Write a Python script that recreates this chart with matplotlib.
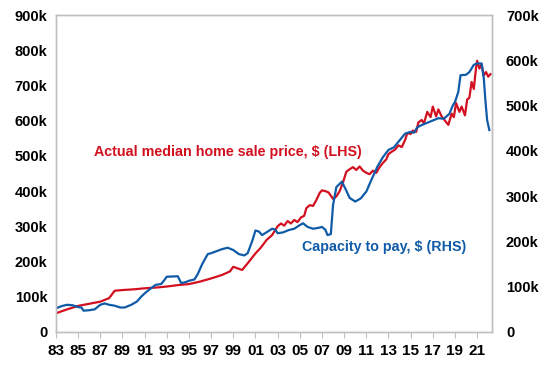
import numpy as np
import matplotlib
matplotlib.use("Agg")
import matplotlib.pyplot as plt
from matplotlib.ticker import FuncFormatter

# ---- data (values in $k) ----
price_years = [1983.0, 1984.0, 1985.0, 1986.0, 1987.0, 1987.8, 1988.3, 1989.0, 1990.0, 1991.0,
               1992.0, 1993.0, 1994.0, 1995.0, 1996.0, 1997.0, 1998.0, 1998.7, 1999.0, 1999.8,
               2000.3, 2001.0, 2001.5, 2002.0, 2002.5, 2003.0, 2003.3, 2003.6, 2003.9, 2004.2,
               2004.5, 2004.8, 2005.1, 2005.4, 2005.6, 2005.9, 2006.2, 2006.5, 2006.8, 2007.0,
               2007.3, 2007.6, 2008.0, 2008.3, 2008.6, 2008.9, 2009.2, 2009.5, 2009.8, 2010.1,
               2010.4, 2010.7, 2011.0, 2011.3, 2011.6, 2011.9, 2012.2, 2012.5, 2012.8, 2013.0,
               2013.3, 2013.6, 2013.9, 2014.2, 2014.5, 2014.7, 2015.0, 2015.2, 2015.5, 2015.7,
               2016.0, 2016.2, 2016.5, 2016.8, 2017.0, 2017.3, 2017.5, 2017.8, 2018.1, 2018.4,
               2018.7, 2018.9, 2019.1, 2019.4, 2019.6, 2019.9, 2020.1, 2020.3, 2020.5, 2020.7,
               2020.9, 2021.0, 2021.2, 2021.4, 2021.6, 2021.8, 2022.0, 2022.2]
price_vals = [53, 64, 74, 80, 86, 96, 117, 119, 121, 124,
              126, 129, 133, 136, 143, 152, 162, 172, 185, 176,
              195, 223, 240, 261, 275, 300, 308, 302, 315, 308,
              318, 312, 325, 330, 352, 360, 358, 375, 395, 402,
              400, 396, 378, 385, 400, 425, 455, 462, 468, 460,
              470, 458, 452, 448, 458, 452, 468, 480, 490, 505,
              512, 518, 530, 525, 545, 565, 562, 572, 568, 595,
              602, 592, 625, 610, 640, 612, 632, 612, 600, 588,
              620, 610, 650, 625, 640, 615, 660, 665, 710, 690,
              750, 770, 748, 760, 728, 738, 725, 732]

cap_years = [1983.0, 1983.5, 1984.0, 1984.5, 1985.0, 1985.3, 1985.5, 1986.0, 1986.5, 1987.0,
             1987.4, 1987.8, 1988.3, 1988.8, 1989.2, 1989.8, 1990.3, 1990.7, 1991.0, 1991.5,
             1992.0, 1992.5, 1992.8, 1993.0, 1994.0, 1994.3, 1994.7, 1995.0, 1995.5, 1995.8,
             1996.2, 1996.7, 1997.0, 1998.0, 1998.5, 1999.0, 1999.5, 2000.0, 2000.3, 2000.7,
             2001.0, 2001.3, 2001.6, 2002.0, 2002.5, 2002.8, 2003.0, 2003.5, 2004.0, 2004.5,
             2005.0, 2005.3, 2005.7, 2006.2, 2006.7, 2007.0, 2007.3, 2007.5, 2007.8, 2008.0,
             2008.3, 2008.8, 2009.2, 2009.5, 2010.0, 2010.5, 2011.0, 2011.5, 2012.0, 2012.5,
             2013.0, 2013.5, 2014.0, 2014.5, 2015.0, 2015.3, 2015.6, 2016.0, 2016.5, 2017.0,
             2017.5, 2018.0, 2018.5, 2018.8, 2019.0, 2019.3, 2019.5, 2020.0, 2020.3, 2020.7,
             2021.0, 2021.4, 2021.6, 2021.75, 2021.9, 2022.1]
cap_vals = [52, 57, 60, 59, 55, 54, 47, 48, 50, 60,
            63, 60, 58, 54, 54, 60, 67, 78, 85, 95,
            104, 106, 115, 122, 123, 108, 110, 113, 116, 128,
            150, 172, 174, 183, 186, 181, 172, 169, 174, 200,
            224, 222, 214, 220, 228, 226, 218, 220, 225, 228,
            236, 240, 232, 228, 230, 232, 226, 214, 216, 280,
            320, 332, 312, 296, 288, 295, 310, 338, 365, 386,
            402, 408, 423, 438, 442, 440, 452, 457, 462, 467,
            472, 471, 482, 500, 508, 530, 567, 568, 574, 590,
            593, 593, 560, 510, 468, 446]

tick_years = list(range(1983, 2022, 2))
tick_labels = ["%02d" % (y % 100) for y in tick_years]

RED = "#D21020"
BLUE = "#0F5BA8"
GREY = "#BFBFBF"

plt.rcParams['font.family'] = ['Liberation Sans', 'DejaVu Sans']

fig = plt.figure(figsize=(5.48, 3.66), dpi=100)
ax = fig.add_axes([0.102, 0.093, 0.796, 0.866])
ax2 = ax.twinx()

ax.plot(price_years, price_vals, color=RED, lw=1.6, zorder=3)
ax2.plot(cap_years, cap_vals, color=BLUE, lw=1.6, zorder=2)

ax.set_xlim(1983, 2022.35)
ax.set_ylim(0, 900)
ax2.set_ylim(0, 700)

ax.set_yticks(range(0, 901, 100))
ax2.set_yticks(range(0, 701, 100))
fmt = FuncFormatter(lambda v, p: "0" if v == 0 else "%dk" % v)
ax.yaxis.set_major_formatter(fmt)
ax2.yaxis.set_major_formatter(fmt)

ax.set_xticks(tick_years)
ax.set_xticklabels(tick_labels)

for a in (ax, ax2):
    for s in a.spines.values():
        s.set_color(GREY)
        s.set_linewidth(1.0)
    a.tick_params(axis='y', length=0, labelsize=10.5, pad=6)
    for lab in a.get_yticklabels():
        lab.set_fontweight('bold')
ax.tick_params(axis='x', direction='out', length=4, color=GREY, labelsize=11, pad=5)
for lab in ax.get_xticklabels():
    lab.set_fontweight('bold')
ax2.tick_params(axis='y', pad=10)

ax.text(1986.4, 510, "Actual median home sale price, $ (LHS)", color=RED,
        fontsize=10.3, fontweight='bold', va='center', ha='left')
ax.text(2005.2, 240, "Capacity to pay, $ (RHS)", color=BLUE,
        fontsize=10.3, fontweight='bold', va='center', ha='left')

fig.savefig("out.png", dpi=100)
